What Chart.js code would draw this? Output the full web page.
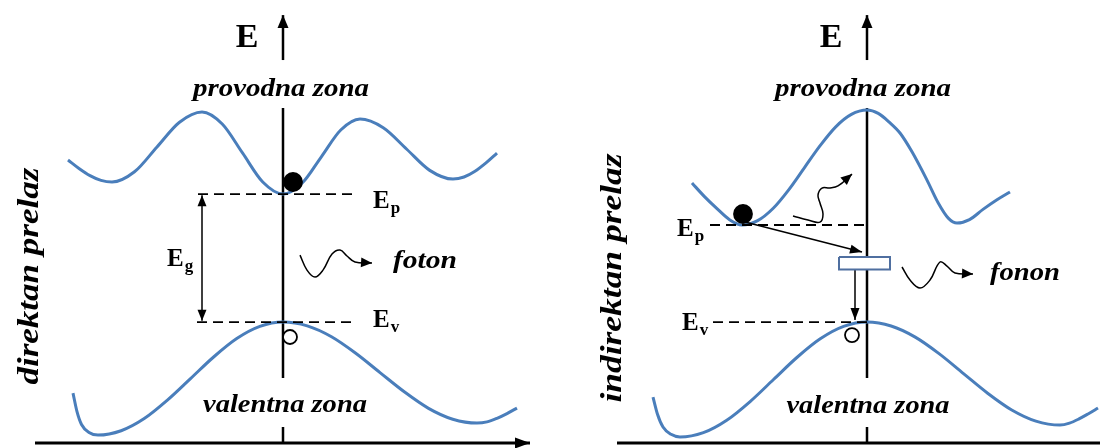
<!DOCTYPE html>
<html>
<head>
<meta charset="utf-8">
<title>Direktan i indirektan prelaz</title>
<script src="https://cdn.jsdelivr.net/npm/chart.js@4.4.1/dist/chart.umd.min.js"></script>
<style>
  html, body { margin: 0; padding: 0; background: #fff; }
  #wrap { display: flex; width: 1100px; height: 448px; }
  canvas { display: block; }
</style>
</head>
<body>
<div id="wrap">
  <canvas id="direct" width="550" height="448"></canvas>
  <canvas id="indirect" width="550" height="448"></canvas>
</div>
<script>
// k = wave vector (relative units), E = energy with E_v = 0

// direct transition panel
const dirCondK = [-0.86, -0.816, -0.772, -0.728, -0.684, -0.594, -0.504, -0.414, -0.324, -0.243, -0.162, -0.081, 0,
  0.077, 0.154, 0.231, 0.308, 0.401, 0.494, 0.587, 0.68, 0.724, 0.768, 0.812, 0.856];
const dirCondE = [1.266, 1.200, 1.144, 1.107, 1.094, 1.174, 1.368, 1.561, 1.641, 1.547, 1.321, 1.094, 1.0,
  1.086, 1.293, 1.500, 1.586, 1.518, 1.352, 1.185, 1.117, 1.133, 1.178, 1.243, 1.32];
const dirValK = [-0.84, -0.824, -0.806, -0.776, -0.74, -0.6475, -0.555, -0.4625, -0.37, -0.2775, -0.185, -0.0925, 0,
  0.097, 0.194, 0.291, 0.388, 0.485, 0.582, 0.679, 0.776, 0.816, 0.856, 0.896, 0.936];
const dirValE = [-0.555, -0.70, -0.80, -0.862, -0.883, -0.849, -0.754, -0.610, -0.442, -0.273, -0.129, -0.034, 0,
  -0.030, -0.115, -0.244, -0.395, -0.545, -0.674, -0.759, -0.789, -0.78, -0.752, -0.715, -0.672];
const photonK = [0.068, 0.096, 0.128, 0.16, 0.196, 0.228, 0.256, 0.288, 0.356];
const photonE = [0.523, 0.406, 0.352, 0.406, 0.531, 0.5625, 0.516, 0.469, 0.461];
const dirEp = 1.0, dirEv = 0;
const dirElectron = [0.04, 1.094];
const dirHole = [0.028, -0.117];

// indirect transition panel
const indCondK = [-0.70, -0.65, -0.60, -0.55, -0.50, -0.4375, -0.375, -0.3125, -0.25, -0.1875, -0.125, -0.0625, 0,
  0.045, 0.09, 0.132, 0.18, 0.24, 0.285, 0.325, 0.36, 0.41, 0.464, 0.52, 0.572];
const indCondE = [1.086, 0.98, 0.886, 0.80, 0.758, 0.792, 0.889, 1.035, 1.207, 1.378, 1.525, 1.622, 1.656,
  1.63, 1.56, 1.477, 1.33, 1.109, 0.93, 0.812, 0.773, 0.80, 0.88, 0.955, 1.016];
const indValK = [-0.856, -0.838, -0.816, -0.784, -0.748, -0.6545, -0.561, -0.4675, -0.374, -0.2805, -0.187, -0.0935, 0,
  0.0965, 0.193, 0.2895, 0.386, 0.4825, 0.579, 0.6755, 0.772, 0.81, 0.848, 0.886, 0.924];
const indValE = [-0.586, -0.72, -0.82, -0.877, -0.898, -0.864, -0.767, -0.621, -0.449, -0.277, -0.131, -0.034, 0,
  -0.031, -0.118, -0.249, -0.403, -0.556, -0.687, -0.774, -0.805, -0.79, -0.757, -0.716, -0.672];
const heatK = [-0.296, -0.236, -0.188, -0.176, -0.188, -0.196, -0.18, -0.148, -0.116, -0.06];
const heatE = [0.828, 0.797, 0.781, 0.844, 0.930, 0.992, 1.047, 1.047, 1.063, 1.156];
const phononK = [0.14, 0.172, 0.212, 0.252, 0.292, 0.32, 0.352, 0.424];
const phononE = [0.430, 0.328, 0.266, 0.328, 0.469, 0.4375, 0.383, 0.375];
const indEp = 0.758, indEv = 0;
const indElectron = [-0.496, 0.844];
const indHole = [-0.06, -0.102];
const trapK = [-0.112, 0.092];
const trapE = [0.410, 0.508];

const BAND = '#4a7ebb';
const BOLD25 = 'bold 25px "Liberation Serif"';
const BOLD34 = 'bold 34px "Liberation Serif"';
const IT25 = 'italic bold 25px "Liberation Serif"';
const IT30 = 'italic bold 30px "Liberation Serif"';

const xy = (ks, es) => ks.map((k, i) => ({ x: k, y: es[i] }));

function band(ks, es) {
  return { data: xy(ks, es), showLine: true, pointRadius: 0, borderColor: BAND, borderWidth: 3,
    cubicInterpolationMode: 'monotone', order: 9 };
}

function segment(points, extra) {
  return Object.assign({ data: points, showLine: true, pointRadius: 0, borderColor: '#000',
    borderWidth: 1.5, tension: 0, order: 6 }, extra);
}

function wiggle(ks, es) {
  return { data: xy(ks, es), showLine: true, pointRadius: 0, borderColor: '#000', borderWidth: 1.5,
    tension: 0.4, order: 5, arrowEnd: true, headLen: 11, headW: 10 };
}

function dot(p, filled, r) {
  return { data: [{ x: p[0], y: p[1] }], showLine: false, pointRadius: r,
    pointBackgroundColor: filled ? '#000' : '#fff', pointBorderColor: '#000', pointBorderWidth: 1.8, order: 1 };
}

// energy axis, stub under the valence label and the k axis
function axes(kFrom, kTo, arrow) {
  const thick = { borderWidth: 2.5, order: 10 };
  return [
    segment([{ x: 0, y: 1.672 }, { x: 0, y: -0.4375 }], thick),
    segment([{ x: 0, y: -0.82 }, { x: 0, y: -0.945 }], thick),
    segment([{ x: kFrom, y: -0.945 }, { x: kTo, y: -0.945 }],
      Object.assign({ arrowEnd: arrow, headLen: 15, headW: 11 }, thick, { borderWidth: 2.8 })),
    segment([{ x: 0, y: 2.047 }, { x: 0, y: 2.398 }],
      Object.assign({ arrowEnd: true, headLen: 13, headW: 11 }, thick))
  ];
}

function level(k0, k1, e) {
  return segment([{ x: k0, y: e }, { x: k1, y: e }], { borderDash: [10, 6], borderWidth: 1.8, order: 8 });
}

function drawHead(ctx, from, to, len, w, color) {
  const a = Math.atan2(to.y - from.y, to.x - from.x);
  const bx = to.x - len * Math.cos(a), by = to.y - len * Math.sin(a);
  ctx.save();
  ctx.fillStyle = color;
  ctx.beginPath();
  ctx.moveTo(to.x, to.y);
  ctx.lineTo(bx + (w / 2) * Math.sin(a), by - (w / 2) * Math.cos(a));
  ctx.lineTo(bx - (w / 2) * Math.sin(a), by + (w / 2) * Math.cos(a));
  ctx.closePath();
  ctx.fill();
  ctx.restore();
}

function drawLabel(ctx, x, y, lab) {
  ctx.save();
  ctx.translate(x, y);
  if (lab.rotate) ctx.rotate(-Math.PI / 2);
  ctx.font = lab.font;
  ctx.fillStyle = '#000';
  ctx.textBaseline = lab.baseline || 'alphabetic';
  ctx.textAlign = lab.align || 'left';
  const w = ctx.measureText(lab.text).width;
  if (lab.width) ctx.scale(lab.width / w, 1);
  ctx.fillText(lab.text, 0, 0);
  if (lab.sub) {
    ctx.font = 'bold 17px "Liberation Serif"';
    ctx.textAlign = 'left';
    ctx.fillText(lab.sub, w + 1, 5);
  }
  ctx.restore();
}

const bandDecor = {
  id: 'bandDecor',
  afterDatasetsDraw(chart) {
    const ctx = chart.ctx;
    chart.data.datasets.forEach((ds, i) => {
      const pts = chart.getDatasetMeta(i).data;
      const n = pts.length;
      if (ds.arrowEnd) drawHead(ctx, pts[n - 2], pts[n - 1], ds.headLen, ds.headW, ds.borderColor);
      if (ds.arrowStart) drawHead(ctx, pts[1], pts[0], ds.headLen, ds.headW, ds.borderColor);
    });
  },
  afterDraw(chart, args, opts) {
    const xs = chart.scales.x, ys = chart.scales.y;
    (opts.labels || []).forEach(lab => {
      drawLabel(chart.ctx, xs.getPixelForValue(lab.k), ys.getPixelForValue(lab.E), lab);
    });
  }
};

function makeChart(id, kMin, kMax, datasets, labels) {
  return new Chart(document.getElementById(id), {
    type: 'scatter',
    data: { datasets },
    plugins: [bandDecor],
    options: {
      responsive: false,
      animation: false,
      events: [],
      layout: { autoPadding: false, padding: 0 },
      scales: {
        x: { type: 'linear', min: kMin, max: kMax, display: false },
        y: { type: 'linear', min: -0.984, max: 2.516, display: false }
      },
      plugins: {
        legend: { display: false },
        tooltip: { enabled: false },
        bandDecor: { labels }
      }
    }
  });
}

makeChart('direct', -1.132, 1.068, [
  ...axes(-0.992, 0.988, true),
  band(dirCondK, dirCondE),
  band(dirValK, dirValE),
  level(-0.34, 0.28, dirEp),
  level(-0.344, 0.276, dirEv),
  segment([{ x: -0.324, y: dirEp - 0.01 }, { x: -0.324, y: dirEv + 0.01 }],
    { arrowEnd: true, arrowStart: true, headLen: 11, headW: 9 }),
  wiggle(photonK, photonE),
  dot(dirHole, false, 7),
  dot(dirElectron, true, 9)
], [
  { text: 'E', k: -0.144, E: 2.148, font: BOLD34, align: 'center' },
  { text: 'provodna zona', k: -0.008, E: 1.766, font: IT25, align: 'center', width: 176 },
  { text: 'valentna zona', k: 0.008, E: -0.703, font: IT25, align: 'center', width: 164 },
  { text: 'foton', k: 0.44, E: 0.422, font: IT25, width: 64 },
  { text: 'E', sub: 'p', k: 0.36, E: 0.891, font: BOLD25 },
  { text: 'E', sub: 'v', k: 0.36, E: -0.039, font: BOLD25 },
  { text: 'E', sub: 'g', k: -0.464, E: 0.4375, font: BOLD25 },
  { text: 'direktan prelaz', k: -1.012, E: 0.359, font: IT30, align: 'center', baseline: 'middle', rotate: true, width: 217 }
]);

makeChart('indirect', -1.268, 0.932, [
  ...axes(-1.0, 0.932, false),
  band(indCondK, indCondE),
  band(indValK, indValE),
  level(-0.628, 0, indEp),
  level(-0.616, 0, indEv),
  segment([{ x: -0.488, y: 0.781 }, { x: -0.02, y: 0.547 }], { arrowEnd: true, headLen: 12, headW: 9 }),
  segment([{ x: -0.048, y: trapE[0] }, { x: -0.048, y: 0.016 }], { arrowEnd: true, headLen: 12, headW: 9 }),
  segment(xy([trapK[0], trapK[1], trapK[1], trapK[0], trapK[0]], [trapE[1], trapE[1], trapE[0], trapE[0], trapE[1]]),
    { borderColor: '#4f6fa0', borderWidth: 2, backgroundColor: '#fff', fill: 'shape', order: 3 }),
  wiggle(heatK, heatE),
  wiggle(phononK, phononE),
  dot(indHole, false, 7),
  dot(indElectron, true, 9)
], [
  { text: 'E', k: -0.144, E: 2.148, font: BOLD34, align: 'center' },
  { text: 'provodna zona', k: -0.016, E: 1.766, font: IT25, align: 'center', width: 176 },
  { text: 'valentna zona', k: 0.004, E: -0.711, font: IT25, align: 'center', width: 163 },
  { text: 'fonon', k: 0.492, E: 0.328, font: IT25, width: 70 },
  { text: 'E', sub: 'p', k: -0.76, E: 0.672, font: BOLD25 },
  { text: 'E', sub: 'v', k: -0.74, E: -0.0625, font: BOLD25 },
  { text: 'indirektan prelaz', k: -1.016, E: 0.344, font: IT30, align: 'center', baseline: 'middle', rotate: true, width: 249 }
]);
</script>
</body>
</html>
